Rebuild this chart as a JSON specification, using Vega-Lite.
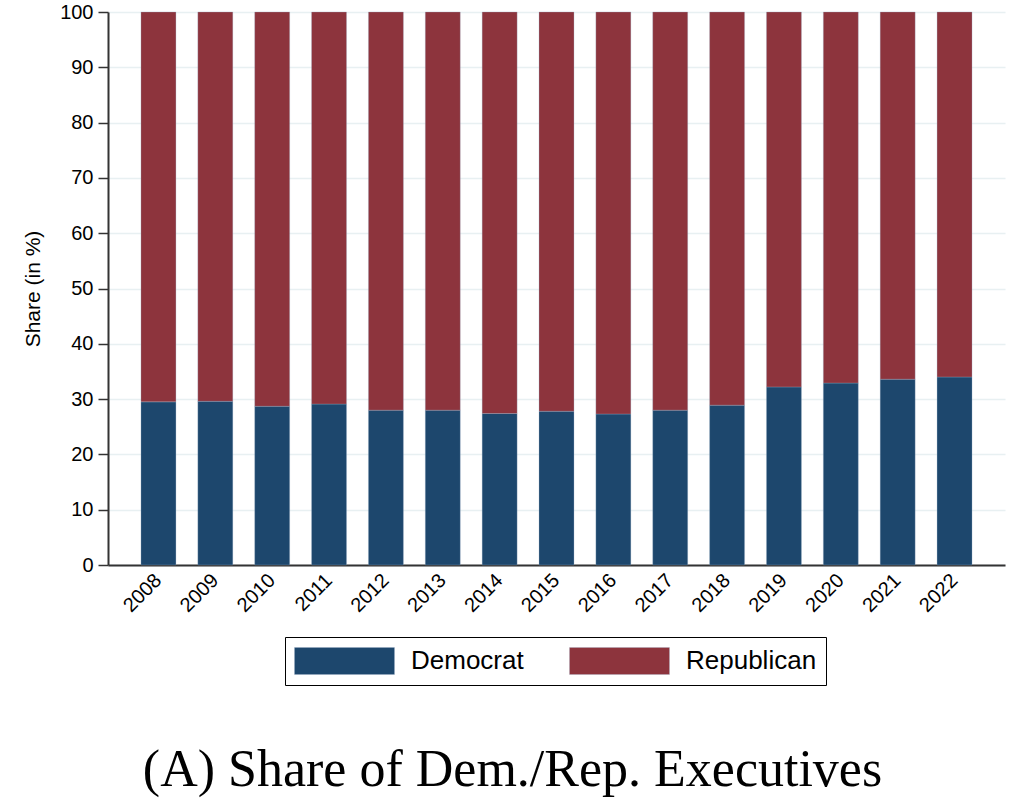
{
  "$schema": "https://vega.github.io/schema/vega-lite/v6.json",
  "width": 897,
  "height": 553,
  "autosize": "none",
  "padding": {"left": 108, "top": 12, "right": 23, "bottom": 247},
  "background": "white",
  "title": {
    "text": "(A) Share of Dem./Rep. Executives",
    "orient": "bottom",
    "anchor": "middle",
    "font": "Liberation Serif",
    "fontSize": 52,
    "fontWeight": "normal",
    "color": "black",
    "offset": 59,
    "dx": -44,
    "frame": "group"
  },
  "data": {
    "values": [
      {"year": "2008", "party": "Democrat", "share": 29.5},
      {"year": "2008", "party": "Republican", "share": 70.5},
      {"year": "2009", "party": "Democrat", "share": 29.6},
      {"year": "2009", "party": "Republican", "share": 70.4},
      {"year": "2010", "party": "Democrat", "share": 28.7},
      {"year": "2010", "party": "Republican", "share": 71.3},
      {"year": "2011", "party": "Democrat", "share": 29.1},
      {"year": "2011", "party": "Republican", "share": 70.9},
      {"year": "2012", "party": "Democrat", "share": 28.0},
      {"year": "2012", "party": "Republican", "share": 72.0},
      {"year": "2013", "party": "Democrat", "share": 28.0},
      {"year": "2013", "party": "Republican", "share": 72.0},
      {"year": "2014", "party": "Democrat", "share": 27.4},
      {"year": "2014", "party": "Republican", "share": 72.6},
      {"year": "2015", "party": "Democrat", "share": 27.8},
      {"year": "2015", "party": "Republican", "share": 72.2},
      {"year": "2016", "party": "Democrat", "share": 27.3},
      {"year": "2016", "party": "Republican", "share": 72.7},
      {"year": "2017", "party": "Democrat", "share": 28.0},
      {"year": "2017", "party": "Republican", "share": 72.0},
      {"year": "2018", "party": "Democrat", "share": 28.9},
      {"year": "2018", "party": "Republican", "share": 71.1},
      {"year": "2019", "party": "Democrat", "share": 32.2},
      {"year": "2019", "party": "Republican", "share": 67.8},
      {"year": "2020", "party": "Democrat", "share": 32.9},
      {"year": "2020", "party": "Republican", "share": 67.1},
      {"year": "2021", "party": "Democrat", "share": 33.6},
      {"year": "2021", "party": "Republican", "share": 66.4},
      {"year": "2022", "party": "Democrat", "share": 34.0},
      {"year": "2022", "party": "Republican", "share": 66.0}
    ]
  },
  "mark": {"type": "bar"},
  "encoding": {
    "x": {
      "field": "year",
      "type": "ordinal",
      "scale": {"paddingInner": 0.385, "paddingOuter": 0.58},
      "axis": {
        "title": null,
        "labelAngle": -45,
        "labelAlign": "right",
        "labelBaseline": "middle",
        "labelFont": "Liberation Sans",
        "labelFontSize": 20,
        "labelColor": "black",
        "ticks": false,
        "domainColor": "#333333",
        "domainWidth": 2,
        "labelPadding": 12
      }
    },
    "y": {
      "field": "share",
      "type": "quantitative",
      "stack": "zero",
      "scale": {"domain": [0, 100], "nice": false},
      "axis": {
        "title": "Share (in %)",
        "titleFont": "Liberation Sans",
        "titleFontSize": 21,
        "titleFontWeight": "normal",
        "titleColor": "black",
        "titlePadding": 16,
        "values": [0, 10, 20, 30, 40, 50, 60, 70, 80, 90, 100],
        "labelFont": "Liberation Sans",
        "labelFontSize": 20,
        "labelColor": "black",
        "labelPadding": 5,
        "tickSize": 10,
        "tickColor": "#333333",
        "tickWidth": 1.5,
        "domainColor": "#333333",
        "domainWidth": 2,
        "grid": true,
        "gridColor": "#e8f0f2",
        "gridWidth": 1.5
      }
    },
    "order": {"field": "party", "sort": "ascending"},
    "color": {
      "field": "party",
      "type": "nominal",
      "scale": {"domain": ["Democrat", "Republican"], "range": ["#1d476d", "#8d343d"]},
      "legend": {
        "title": null,
        "orient": "none",
        "legendX": 177,
        "legendY": 625,
        "direction": "horizontal",
        "columns": 2,
        "symbolType": "M-1,-0.27H1V0.27H-1Z",
        "symbolSize": 10000,
        "symbolStrokeWidth": 0,
        "clipHeight": 30,
        "labelFont": "Liberation Sans",
        "labelFontSize": 26,
        "labelColor": "black",
        "labelOffset": 16,
        "columnPadding": 45,
        "padding": 9,
        "strokeColor": "black",
        "fillColor": "white"
      }
    }
  },
  "config": {
    "view": {"stroke": null},
    "bar": {"stroke": "#9fb3c8", "strokeWidth": 0.6, "strokeOpacity": 0.5}
  }
}
